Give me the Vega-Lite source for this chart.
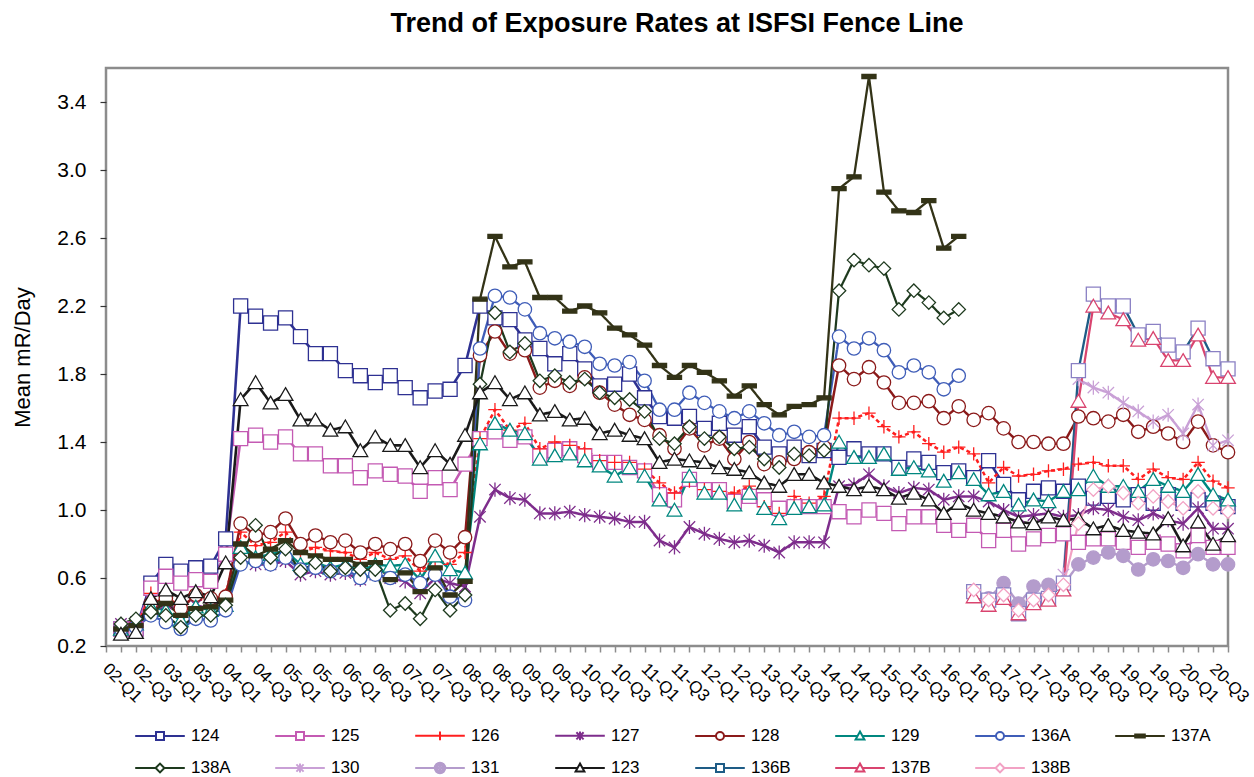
{
"$schema": "https://vega.github.io/schema/vega-lite/v6.json",
"width": 1122, "height": 578,
"autosize": {"type": "none"},
"padding": {"left": 106, "top": 68, "right": 26, "bottom": 131},
"background": "white",
"config": {"view": {"stroke": "#8c8c8c", "strokeWidth": 2.5}, "font": "Liberation Sans"},
"title": {"text": "Trend of Exposure Rates at ISFSI  Fence Line", "font": "Liberation Sans", "fontSize": 27, "fontWeight": "bold", "color": "#000000", "anchor": "middle", "offset": 30, "dx": 10},
"data": {"values": [
{"s":"124","q":"02-Q1","v":0.30},{"s":"124","q":"02-Q2","v":0.30},{"s":"124","q":"02-Q3","v":0.57},{"s":"124","q":"02-Q4","v":0.68},{"s":"124","q":"03-Q1","v":0.64},{"s":"124","q":"03-Q2","v":0.66},{"s":"124","q":"03-Q3","v":0.67},{"s":"124","q":"03-Q4","v":0.83},{"s":"124","q":"04-Q1","v":2.20},{"s":"124","q":"04-Q2","v":2.14},{"s":"124","q":"04-Q3","v":2.10},{"s":"124","q":"04-Q4","v":2.13},{"s":"124","q":"05-Q1","v":2.02},{"s":"124","q":"05-Q2","v":1.92},{"s":"124","q":"05-Q3","v":1.92},{"s":"124","q":"05-Q4","v":1.82},{"s":"124","q":"06-Q1","v":1.79},{"s":"124","q":"06-Q2","v":1.75},{"s":"124","q":"06-Q3","v":1.79},{"s":"124","q":"06-Q4","v":1.72},{"s":"124","q":"07-Q1","v":1.66},{"s":"124","q":"07-Q2","v":1.70},{"s":"124","q":"07-Q3","v":1.71},{"s":"124","q":"07-Q4","v":1.85},{"s":"124","q":"08-Q1","v":2.20},{"s":"124","q":"08-Q2","v":2.13},{"s":"124","q":"08-Q3","v":2.12},{"s":"124","q":"08-Q4","v":2.00},{"s":"124","q":"09-Q1","v":1.95},{"s":"124","q":"09-Q2","v":1.86},{"s":"124","q":"09-Q3","v":1.92},{"s":"124","q":"09-Q4","v":1.83},{"s":"124","q":"10-Q1","v":1.73},{"s":"124","q":"10-Q2","v":1.74},{"s":"124","q":"10-Q3","v":1.80},{"s":"124","q":"10-Q4","v":1.66},{"s":"124","q":"11-Q1","v":1.55},{"s":"124","q":"11-Q2","v":1.54},{"s":"124","q":"11-Q3","v":1.55},{"s":"124","q":"11-Q4","v":1.48},{"s":"124","q":"12-Q1","v":1.51},{"s":"124","q":"12-Q2","v":1.44},{"s":"124","q":"12-Q3","v":1.49},{"s":"124","q":"12-Q4","v":1.37},{"s":"124","q":"13-Q1","v":1.33},{"s":"124","q":"13-Q2","v":1.37},{"s":"124","q":"13-Q3","v":1.32},{"s":"124","q":"13-Q4","v":1.35},{"s":"124","q":"14-Q1","v":1.31},{"s":"124","q":"14-Q2","v":1.36},{"s":"124","q":"14-Q3","v":1.33},{"s":"124","q":"14-Q4","v":1.33},{"s":"124","q":"15-Q1","v":1.25},{"s":"124","q":"15-Q2","v":1.30},{"s":"124","q":"15-Q3","v":1.28},{"s":"124","q":"15-Q4","v":1.22},{"s":"124","q":"16-Q1","v":1.23},{"s":"124","q":"16-Q2","v":1.19},{"s":"124","q":"16-Q3","v":1.29},{"s":"124","q":"16-Q4","v":1.15},{"s":"124","q":"17-Q1","v":1.06},{"s":"124","q":"17-Q2","v":1.11},{"s":"124","q":"17-Q3","v":1.13},{"s":"124","q":"17-Q4","v":1.11},{"s":"124","q":"18-Q1","v":1.14},{"s":"124","q":"18-Q2","v":1.07},{"s":"124","q":"18-Q3","v":1.08},{"s":"124","q":"18-Q4","v":1.06},{"s":"124","q":"19-Q1","v":1.09},{"s":"124","q":"19-Q2","v":1.04},{"s":"124","q":"19-Q3","v":1.09},{"s":"124","q":"19-Q4","v":1.04},{"s":"124","q":"20-Q1","v":1.06},{"s":"124","q":"20-Q2","v":1.04},{"s":"124","q":"20-Q3","v":1.02},
{"s":"125","q":"02-Q1","v":0.30},{"s":"125","q":"02-Q2","v":0.30},{"s":"125","q":"02-Q3","v":0.54},{"s":"125","q":"02-Q4","v":0.61},{"s":"125","q":"03-Q1","v":0.57},{"s":"125","q":"03-Q2","v":0.59},{"s":"125","q":"03-Q3","v":0.58},{"s":"125","q":"03-Q4","v":0.74},{"s":"125","q":"04-Q1","v":1.42},{"s":"125","q":"04-Q2","v":1.44},{"s":"125","q":"04-Q3","v":1.40},{"s":"125","q":"04-Q4","v":1.43},{"s":"125","q":"05-Q1","v":1.33},{"s":"125","q":"05-Q2","v":1.33},{"s":"125","q":"05-Q3","v":1.26},{"s":"125","q":"05-Q4","v":1.26},{"s":"125","q":"06-Q1","v":1.19},{"s":"125","q":"06-Q2","v":1.23},{"s":"125","q":"06-Q3","v":1.21},{"s":"125","q":"06-Q4","v":1.20},{"s":"125","q":"07-Q1","v":1.11},{"s":"125","q":"07-Q2","v":1.19},{"s":"125","q":"07-Q3","v":1.12},{"s":"125","q":"07-Q4","v":1.27},{"s":"125","q":"08-Q1","v":1.42},{"s":"125","q":"08-Q2","v":1.46},{"s":"125","q":"08-Q3","v":1.41},{"s":"125","q":"08-Q4","v":1.43},{"s":"125","q":"09-Q1","v":1.32},{"s":"125","q":"09-Q2","v":1.35},{"s":"125","q":"09-Q3","v":1.36},{"s":"125","q":"09-Q4","v":1.32},{"s":"125","q":"10-Q1","v":1.28},{"s":"125","q":"10-Q2","v":1.28},{"s":"125","q":"10-Q3","v":1.25},{"s":"125","q":"10-Q4","v":1.23},{"s":"125","q":"11-Q1","v":1.09},{"s":"125","q":"11-Q2","v":1.06},{"s":"125","q":"11-Q3","v":1.18},{"s":"125","q":"11-Q4","v":1.12},{"s":"125","q":"12-Q1","v":1.12},{"s":"125","q":"12-Q2","v":1.05},{"s":"125","q":"12-Q3","v":1.08},{"s":"125","q":"12-Q4","v":1.06},{"s":"125","q":"13-Q1","v":1.01},{"s":"125","q":"13-Q2","v":1.02},{"s":"125","q":"13-Q3","v":1.02},{"s":"125","q":"13-Q4","v":1.02},{"s":"125","q":"14-Q1","v":0.99},{"s":"125","q":"14-Q2","v":0.96},{"s":"125","q":"14-Q3","v":1.00},{"s":"125","q":"14-Q4","v":0.98},{"s":"125","q":"15-Q1","v":0.92},{"s":"125","q":"15-Q2","v":0.96},{"s":"125","q":"15-Q3","v":0.96},{"s":"125","q":"15-Q4","v":0.91},{"s":"125","q":"16-Q1","v":0.88},{"s":"125","q":"16-Q2","v":0.91},{"s":"125","q":"16-Q3","v":0.82},{"s":"125","q":"16-Q4","v":0.88},{"s":"125","q":"17-Q1","v":0.80},{"s":"125","q":"17-Q2","v":0.83},{"s":"125","q":"17-Q3","v":0.85},{"s":"125","q":"17-Q4","v":0.86},{"s":"125","q":"18-Q1","v":0.81},{"s":"125","q":"18-Q2","v":0.83},{"s":"125","q":"18-Q3","v":0.83},{"s":"125","q":"18-Q4","v":0.81},{"s":"125","q":"19-Q1","v":0.78},{"s":"125","q":"19-Q2","v":0.81},{"s":"125","q":"19-Q3","v":0.80},{"s":"125","q":"19-Q4","v":0.76},{"s":"125","q":"20-Q1","v":0.85},{"s":"125","q":"20-Q2","v":0.78},{"s":"125","q":"20-Q3","v":0.78},
{"s":"126","q":"02-Q1","v":0.30},{"s":"126","q":"02-Q2","v":0.30},{"s":"126","q":"02-Q3","v":0.51},{"s":"126","q":"02-Q4","v":0.48},{"s":"126","q":"03-Q1","v":0.44},{"s":"126","q":"03-Q2","v":0.48},{"s":"126","q":"03-Q3","v":0.46},{"s":"126","q":"03-Q4","v":0.50},{"s":"126","q":"04-Q1","v":0.87},{"s":"126","q":"04-Q2","v":0.79},{"s":"126","q":"04-Q3","v":0.81},{"s":"126","q":"04-Q4","v":0.87},{"s":"126","q":"05-Q1","v":0.75},{"s":"126","q":"05-Q2","v":0.78},{"s":"126","q":"05-Q3","v":0.76},{"s":"126","q":"05-Q4","v":0.75},{"s":"126","q":"06-Q1","v":0.71},{"s":"126","q":"06-Q2","v":0.75},{"s":"126","q":"06-Q3","v":0.71},{"s":"126","q":"06-Q4","v":0.73},{"s":"126","q":"07-Q1","v":0.64},{"s":"126","q":"07-Q2","v":0.71},{"s":"126","q":"07-Q3","v":0.68},{"s":"126","q":"07-Q4","v":0.75},{"s":"126","q":"08-Q1","v":1.42},{"s":"126","q":"08-Q2","v":1.59},{"s":"126","q":"08-Q3","v":1.47},{"s":"126","q":"08-Q4","v":1.51},{"s":"126","q":"09-Q1","v":1.36},{"s":"126","q":"09-Q2","v":1.40},{"s":"126","q":"09-Q3","v":1.38},{"s":"126","q":"09-Q4","v":1.36},{"s":"126","q":"10-Q1","v":1.29},{"s":"126","q":"10-Q2","v":1.28},{"s":"126","q":"10-Q3","v":1.28},{"s":"126","q":"10-Q4","v":1.24},{"s":"126","q":"11-Q1","v":1.16},{"s":"126","q":"11-Q2","v":1.10},{"s":"126","q":"11-Q3","v":1.17},{"s":"126","q":"11-Q4","v":1.12},{"s":"126","q":"12-Q1","v":1.11},{"s":"126","q":"12-Q2","v":1.10},{"s":"126","q":"12-Q3","v":1.14},{"s":"126","q":"12-Q4","v":1.02},{"s":"126","q":"13-Q1","v":0.98},{"s":"126","q":"13-Q2","v":1.08},{"s":"126","q":"13-Q3","v":1.04},{"s":"126","q":"13-Q4","v":1.08},{"s":"126","q":"14-Q1","v":1.54},{"s":"126","q":"14-Q2","v":1.54},{"s":"126","q":"14-Q3","v":1.57},{"s":"126","q":"14-Q4","v":1.49},{"s":"126","q":"15-Q1","v":1.43},{"s":"126","q":"15-Q2","v":1.46},{"s":"126","q":"15-Q3","v":1.39},{"s":"126","q":"15-Q4","v":1.34},{"s":"126","q":"16-Q1","v":1.37},{"s":"126","q":"16-Q2","v":1.33},{"s":"126","q":"16-Q3","v":1.16},{"s":"126","q":"16-Q4","v":1.25},{"s":"126","q":"17-Q1","v":1.20},{"s":"126","q":"17-Q2","v":1.21},{"s":"126","q":"17-Q3","v":1.23},{"s":"126","q":"17-Q4","v":1.24},{"s":"126","q":"18-Q1","v":1.27},{"s":"126","q":"18-Q2","v":1.28},{"s":"126","q":"18-Q3","v":1.26},{"s":"126","q":"18-Q4","v":1.26},{"s":"126","q":"19-Q1","v":1.18},{"s":"126","q":"19-Q2","v":1.24},{"s":"126","q":"19-Q3","v":1.19},{"s":"126","q":"19-Q4","v":1.18},{"s":"126","q":"20-Q1","v":1.28},{"s":"126","q":"20-Q2","v":1.17},{"s":"126","q":"20-Q3","v":1.13},
{"s":"127","q":"02-Q1","v":0.33},{"s":"127","q":"02-Q2","v":0.34},{"s":"127","q":"02-Q3","v":0.42},{"s":"127","q":"02-Q4","v":0.45},{"s":"127","q":"03-Q1","v":0.40},{"s":"127","q":"03-Q2","v":0.44},{"s":"127","q":"03-Q3","v":0.42},{"s":"127","q":"03-Q4","v":0.45},{"s":"127","q":"04-Q1","v":0.70},{"s":"127","q":"04-Q2","v":0.68},{"s":"127","q":"04-Q3","v":0.68},{"s":"127","q":"04-Q4","v":0.70},{"s":"127","q":"05-Q1","v":0.62},{"s":"127","q":"05-Q2","v":0.64},{"s":"127","q":"05-Q3","v":0.62},{"s":"127","q":"05-Q4","v":0.63},{"s":"127","q":"06-Q1","v":0.59},{"s":"127","q":"06-Q2","v":0.62},{"s":"127","q":"06-Q3","v":0.60},{"s":"127","q":"06-Q4","v":0.58},{"s":"127","q":"07-Q1","v":0.51},{"s":"127","q":"07-Q2","v":0.60},{"s":"127","q":"07-Q3","v":0.57},{"s":"127","q":"07-Q4","v":0.55},{"s":"127","q":"08-Q1","v":0.96},{"s":"127","q":"08-Q2","v":1.12},{"s":"127","q":"08-Q3","v":1.07},{"s":"127","q":"08-Q4","v":1.06},{"s":"127","q":"09-Q1","v":0.98},{"s":"127","q":"09-Q2","v":0.98},{"s":"127","q":"09-Q3","v":0.99},{"s":"127","q":"09-Q4","v":0.97},{"s":"127","q":"10-Q1","v":0.96},{"s":"127","q":"10-Q2","v":0.95},{"s":"127","q":"10-Q3","v":0.93},{"s":"127","q":"10-Q4","v":0.93},{"s":"127","q":"11-Q1","v":0.82},{"s":"127","q":"11-Q2","v":0.78},{"s":"127","q":"11-Q3","v":0.90},{"s":"127","q":"11-Q4","v":0.86},{"s":"127","q":"12-Q1","v":0.83},{"s":"127","q":"12-Q2","v":0.81},{"s":"127","q":"12-Q3","v":0.82},{"s":"127","q":"12-Q4","v":0.79},{"s":"127","q":"13-Q1","v":0.75},{"s":"127","q":"13-Q2","v":0.81},{"s":"127","q":"13-Q3","v":0.81},{"s":"127","q":"13-Q4","v":0.81},{"s":"127","q":"14-Q1","v":1.14},{"s":"127","q":"14-Q2","v":1.15},{"s":"127","q":"14-Q3","v":1.21},{"s":"127","q":"14-Q4","v":1.14},{"s":"127","q":"15-Q1","v":1.10},{"s":"127","q":"15-Q2","v":1.13},{"s":"127","q":"15-Q3","v":1.12},{"s":"127","q":"15-Q4","v":1.06},{"s":"127","q":"16-Q1","v":1.08},{"s":"127","q":"16-Q2","v":1.08},{"s":"127","q":"16-Q3","v":1.05},{"s":"127","q":"16-Q4","v":1.00},{"s":"127","q":"17-Q1","v":0.96},{"s":"127","q":"17-Q2","v":0.97},{"s":"127","q":"17-Q3","v":0.98},{"s":"127","q":"17-Q4","v":0.96},{"s":"127","q":"18-Q1","v":0.97},{"s":"127","q":"18-Q2","v":1.01},{"s":"127","q":"18-Q3","v":1.00},{"s":"127","q":"18-Q4","v":0.96},{"s":"127","q":"19-Q1","v":0.94},{"s":"127","q":"19-Q2","v":0.98},{"s":"127","q":"19-Q3","v":0.94},{"s":"127","q":"19-Q4","v":0.92},{"s":"127","q":"20-Q1","v":1.01},{"s":"127","q":"20-Q2","v":0.89},{"s":"127","q":"20-Q3","v":0.89},
{"s":"128","q":"02-Q1","v":0.30},{"s":"128","q":"02-Q2","v":0.32},{"s":"128","q":"02-Q3","v":0.45},{"s":"128","q":"02-Q4","v":0.48},{"s":"128","q":"03-Q1","v":0.42},{"s":"128","q":"03-Q2","v":0.50},{"s":"128","q":"03-Q3","v":0.48},{"s":"128","q":"03-Q4","v":0.49},{"s":"128","q":"04-Q1","v":0.92},{"s":"128","q":"04-Q2","v":0.85},{"s":"128","q":"04-Q3","v":0.87},{"s":"128","q":"04-Q4","v":0.95},{"s":"128","q":"05-Q1","v":0.80},{"s":"128","q":"05-Q2","v":0.85},{"s":"128","q":"05-Q3","v":0.81},{"s":"128","q":"05-Q4","v":0.82},{"s":"128","q":"06-Q1","v":0.75},{"s":"128","q":"06-Q2","v":0.80},{"s":"128","q":"06-Q3","v":0.77},{"s":"128","q":"06-Q4","v":0.80},{"s":"128","q":"07-Q1","v":0.70},{"s":"128","q":"07-Q2","v":0.82},{"s":"128","q":"07-Q3","v":0.75},{"s":"128","q":"07-Q4","v":0.84},{"s":"128","q":"08-Q1","v":1.91},{"s":"128","q":"08-Q2","v":2.05},{"s":"128","q":"08-Q3","v":1.92},{"s":"128","q":"08-Q4","v":1.94},{"s":"128","q":"09-Q1","v":1.72},{"s":"128","q":"09-Q2","v":1.76},{"s":"128","q":"09-Q3","v":1.73},{"s":"128","q":"09-Q4","v":1.78},{"s":"128","q":"10-Q1","v":1.69},{"s":"128","q":"10-Q2","v":1.62},{"s":"128","q":"10-Q3","v":1.56},{"s":"128","q":"10-Q4","v":1.53},{"s":"128","q":"11-Q1","v":1.44},{"s":"128","q":"11-Q2","v":1.36},{"s":"128","q":"11-Q3","v":1.48},{"s":"128","q":"11-Q4","v":1.38},{"s":"128","q":"12-Q1","v":1.42},{"s":"128","q":"12-Q2","v":1.30},{"s":"128","q":"12-Q3","v":1.40},{"s":"128","q":"12-Q4","v":1.27},{"s":"128","q":"13-Q1","v":1.28},{"s":"128","q":"13-Q2","v":1.30},{"s":"128","q":"13-Q3","v":1.34},{"s":"128","q":"13-Q4","v":1.37},{"s":"128","q":"14-Q1","v":1.85},{"s":"128","q":"14-Q2","v":1.77},{"s":"128","q":"14-Q3","v":1.84},{"s":"128","q":"14-Q4","v":1.75},{"s":"128","q":"15-Q1","v":1.63},{"s":"128","q":"15-Q2","v":1.63},{"s":"128","q":"15-Q3","v":1.64},{"s":"128","q":"15-Q4","v":1.54},{"s":"128","q":"16-Q1","v":1.61},{"s":"128","q":"16-Q2","v":1.53},{"s":"128","q":"16-Q3","v":1.57},{"s":"128","q":"16-Q4","v":1.48},{"s":"128","q":"17-Q1","v":1.40},{"s":"128","q":"17-Q2","v":1.40},{"s":"128","q":"17-Q3","v":1.39},{"s":"128","q":"17-Q4","v":1.39},{"s":"128","q":"18-Q1","v":1.55},{"s":"128","q":"18-Q2","v":1.54},{"s":"128","q":"18-Q3","v":1.52},{"s":"128","q":"18-Q4","v":1.56},{"s":"128","q":"19-Q1","v":1.46},{"s":"128","q":"19-Q2","v":1.49},{"s":"128","q":"19-Q3","v":1.45},{"s":"128","q":"19-Q4","v":1.40},{"s":"128","q":"20-Q1","v":1.52},{"s":"128","q":"20-Q2","v":1.38},{"s":"128","q":"20-Q3","v":1.34},
{"s":"129","q":"02-Q1","v":0.30},{"s":"129","q":"02-Q2","v":0.33},{"s":"129","q":"02-Q3","v":0.43},{"s":"129","q":"02-Q4","v":0.41},{"s":"129","q":"03-Q1","v":0.35},{"s":"129","q":"03-Q2","v":0.43},{"s":"129","q":"03-Q3","v":0.41},{"s":"129","q":"03-Q4","v":0.44},{"s":"129","q":"04-Q1","v":0.78},{"s":"129","q":"04-Q2","v":0.72},{"s":"129","q":"04-Q3","v":0.74},{"s":"129","q":"04-Q4","v":0.76},{"s":"129","q":"05-Q1","v":0.68},{"s":"129","q":"05-Q2","v":0.69},{"s":"129","q":"05-Q3","v":0.66},{"s":"129","q":"05-Q4","v":0.68},{"s":"129","q":"06-Q1","v":0.64},{"s":"129","q":"06-Q2","v":0.68},{"s":"129","q":"06-Q3","v":0.67},{"s":"129","q":"06-Q4","v":0.68},{"s":"129","q":"07-Q1","v":0.59},{"s":"129","q":"07-Q2","v":0.73},{"s":"129","q":"07-Q3","v":0.65},{"s":"129","q":"07-Q4","v":0.63},{"s":"129","q":"08-Q1","v":1.39},{"s":"129","q":"08-Q2","v":1.51},{"s":"129","q":"08-Q3","v":1.47},{"s":"129","q":"08-Q4","v":1.45},{"s":"129","q":"09-Q1","v":1.30},{"s":"129","q":"09-Q2","v":1.32},{"s":"129","q":"09-Q3","v":1.33},{"s":"129","q":"09-Q4","v":1.29},{"s":"129","q":"10-Q1","v":1.26},{"s":"129","q":"10-Q2","v":1.20},{"s":"129","q":"10-Q3","v":1.25},{"s":"129","q":"10-Q4","v":1.20},{"s":"129","q":"11-Q1","v":1.06},{"s":"129","q":"11-Q2","v":1.00},{"s":"129","q":"11-Q3","v":1.20},{"s":"129","q":"11-Q4","v":1.10},{"s":"129","q":"12-Q1","v":1.10},{"s":"129","q":"12-Q2","v":1.03},{"s":"129","q":"12-Q3","v":1.10},{"s":"129","q":"12-Q4","v":1.01},{"s":"129","q":"13-Q1","v":0.95},{"s":"129","q":"13-Q2","v":1.01},{"s":"129","q":"13-Q3","v":1.02},{"s":"129","q":"13-Q4","v":1.03},{"s":"129","q":"14-Q1","v":1.40},{"s":"129","q":"14-Q2","v":1.31},{"s":"129","q":"14-Q3","v":1.31},{"s":"129","q":"14-Q4","v":1.33},{"s":"129","q":"15-Q1","v":1.24},{"s":"129","q":"15-Q2","v":1.25},{"s":"129","q":"15-Q3","v":1.23},{"s":"129","q":"15-Q4","v":1.17},{"s":"129","q":"16-Q1","v":1.22},{"s":"129","q":"16-Q2","v":1.18},{"s":"129","q":"16-Q3","v":1.09},{"s":"129","q":"16-Q4","v":1.11},{"s":"129","q":"17-Q1","v":1.03},{"s":"129","q":"17-Q2","v":1.06},{"s":"129","q":"17-Q3","v":1.05},{"s":"129","q":"17-Q4","v":1.11},{"s":"129","q":"18-Q1","v":1.12},{"s":"129","q":"18-Q2","v":1.20},{"s":"129","q":"18-Q3","v":1.14},{"s":"129","q":"18-Q4","v":1.14},{"s":"129","q":"19-Q1","v":1.11},{"s":"129","q":"19-Q2","v":1.18},{"s":"129","q":"19-Q3","v":1.14},{"s":"129","q":"19-Q4","v":1.11},{"s":"129","q":"20-Q1","v":1.21},{"s":"129","q":"20-Q2","v":1.09},{"s":"129","q":"20-Q3","v":1.06},
{"s":"136A","q":"02-Q1","v":0.30},{"s":"136A","q":"02-Q2","v":0.31},{"s":"136A","q":"02-Q3","v":0.38},{"s":"136A","q":"02-Q4","v":0.34},{"s":"136A","q":"03-Q1","v":0.30},{"s":"136A","q":"03-Q2","v":0.36},{"s":"136A","q":"03-Q3","v":0.35},{"s":"136A","q":"03-Q4","v":0.41},{"s":"136A","q":"04-Q1","v":0.68},{"s":"136A","q":"04-Q2","v":0.70},{"s":"136A","q":"04-Q3","v":0.68},{"s":"136A","q":"04-Q4","v":0.72},{"s":"136A","q":"05-Q1","v":0.65},{"s":"136A","q":"05-Q2","v":0.66},{"s":"136A","q":"05-Q3","v":0.64},{"s":"136A","q":"05-Q4","v":0.65},{"s":"136A","q":"06-Q1","v":0.60},{"s":"136A","q":"06-Q2","v":0.62},{"s":"136A","q":"06-Q3","v":0.60},{"s":"136A","q":"06-Q4","v":0.62},{"s":"136A","q":"07-Q1","v":0.57},{"s":"136A","q":"07-Q2","v":0.62},{"s":"136A","q":"07-Q3","v":0.49},{"s":"136A","q":"07-Q4","v":0.47},{"s":"136A","q":"08-Q1","v":1.95},{"s":"136A","q":"08-Q2","v":2.26},{"s":"136A","q":"08-Q3","v":2.25},{"s":"136A","q":"08-Q4","v":2.18},{"s":"136A","q":"09-Q1","v":2.04},{"s":"136A","q":"09-Q2","v":2.01},{"s":"136A","q":"09-Q3","v":1.99},{"s":"136A","q":"09-Q4","v":1.96},{"s":"136A","q":"10-Q1","v":1.86},{"s":"136A","q":"10-Q2","v":1.85},{"s":"136A","q":"10-Q3","v":1.87},{"s":"136A","q":"10-Q4","v":1.76},{"s":"136A","q":"11-Q1","v":1.59},{"s":"136A","q":"11-Q2","v":1.59},{"s":"136A","q":"11-Q3","v":1.69},{"s":"136A","q":"11-Q4","v":1.63},{"s":"136A","q":"12-Q1","v":1.58},{"s":"136A","q":"12-Q2","v":1.54},{"s":"136A","q":"12-Q3","v":1.58},{"s":"136A","q":"12-Q4","v":1.51},{"s":"136A","q":"13-Q1","v":1.44},{"s":"136A","q":"13-Q2","v":1.46},{"s":"136A","q":"13-Q3","v":1.43},{"s":"136A","q":"13-Q4","v":1.44},{"s":"136A","q":"14-Q1","v":2.02},{"s":"136A","q":"14-Q2","v":1.95},{"s":"136A","q":"14-Q3","v":2.01},{"s":"136A","q":"14-Q4","v":1.94},{"s":"136A","q":"15-Q1","v":1.81},{"s":"136A","q":"15-Q2","v":1.85},{"s":"136A","q":"15-Q3","v":1.81},{"s":"136A","q":"15-Q4","v":1.71},{"s":"136A","q":"16-Q1","v":1.79},
{"s":"137A","q":"02-Q1","v":0.30},{"s":"137A","q":"02-Q2","v":0.32},{"s":"137A","q":"02-Q3","v":0.40},{"s":"137A","q":"02-Q4","v":0.45},{"s":"137A","q":"03-Q1","v":0.38},{"s":"137A","q":"03-Q2","v":0.42},{"s":"137A","q":"03-Q3","v":0.43},{"s":"137A","q":"03-Q4","v":0.47},{"s":"137A","q":"04-Q1","v":0.80},{"s":"137A","q":"04-Q2","v":0.73},{"s":"137A","q":"04-Q3","v":0.77},{"s":"137A","q":"04-Q4","v":0.82},{"s":"137A","q":"05-Q1","v":0.75},{"s":"137A","q":"05-Q2","v":0.73},{"s":"137A","q":"05-Q3","v":0.71},{"s":"137A","q":"05-Q4","v":0.71},{"s":"137A","q":"06-Q1","v":0.68},{"s":"137A","q":"06-Q2","v":0.69},{"s":"137A","q":"06-Q3","v":0.59},{"s":"137A","q":"06-Q4","v":0.63},{"s":"137A","q":"07-Q1","v":0.52},{"s":"137A","q":"07-Q2","v":0.66},{"s":"137A","q":"07-Q3","v":0.50},{"s":"137A","q":"07-Q4","v":0.58},{"s":"137A","q":"08-Q1","v":2.24},{"s":"137A","q":"08-Q2","v":2.61},{"s":"137A","q":"08-Q3","v":2.43},{"s":"137A","q":"08-Q4","v":2.46},{"s":"137A","q":"09-Q1","v":2.25},{"s":"137A","q":"09-Q2","v":2.25},{"s":"137A","q":"09-Q3","v":2.17},{"s":"137A","q":"09-Q4","v":2.20},{"s":"137A","q":"10-Q1","v":2.16},{"s":"137A","q":"10-Q2","v":2.07},{"s":"137A","q":"10-Q3","v":2.03},{"s":"137A","q":"10-Q4","v":1.97},{"s":"137A","q":"11-Q1","v":1.85},{"s":"137A","q":"11-Q2","v":1.78},{"s":"137A","q":"11-Q3","v":1.85},{"s":"137A","q":"11-Q4","v":1.81},{"s":"137A","q":"12-Q1","v":1.76},{"s":"137A","q":"12-Q2","v":1.67},{"s":"137A","q":"12-Q3","v":1.73},{"s":"137A","q":"12-Q4","v":1.62},{"s":"137A","q":"13-Q1","v":1.56},{"s":"137A","q":"13-Q2","v":1.61},{"s":"137A","q":"13-Q3","v":1.62},{"s":"137A","q":"13-Q4","v":1.66},{"s":"137A","q":"14-Q1","v":2.89},{"s":"137A","q":"14-Q2","v":2.96},{"s":"137A","q":"14-Q3","v":3.55},{"s":"137A","q":"14-Q4","v":2.87},{"s":"137A","q":"15-Q1","v":2.76},{"s":"137A","q":"15-Q2","v":2.75},{"s":"137A","q":"15-Q3","v":2.82},{"s":"137A","q":"15-Q4","v":2.54},{"s":"137A","q":"16-Q1","v":2.61},
{"s":"138A","q":"02-Q1","v":0.33},{"s":"138A","q":"02-Q2","v":0.36},{"s":"138A","q":"02-Q3","v":0.40},{"s":"138A","q":"02-Q4","v":0.38},{"s":"138A","q":"03-Q1","v":0.31},{"s":"138A","q":"03-Q2","v":0.38},{"s":"138A","q":"03-Q3","v":0.38},{"s":"138A","q":"03-Q4","v":0.44},{"s":"138A","q":"04-Q1","v":0.72},{"s":"138A","q":"04-Q2","v":0.91},{"s":"138A","q":"04-Q3","v":0.72},{"s":"138A","q":"04-Q4","v":0.77},{"s":"138A","q":"05-Q1","v":0.64},{"s":"138A","q":"05-Q2","v":0.69},{"s":"138A","q":"05-Q3","v":0.64},{"s":"138A","q":"05-Q4","v":0.66},{"s":"138A","q":"06-Q1","v":0.65},{"s":"138A","q":"06-Q2","v":0.65},{"s":"138A","q":"06-Q3","v":0.41},{"s":"138A","q":"06-Q4","v":0.45},{"s":"138A","q":"07-Q1","v":0.36},{"s":"138A","q":"07-Q2","v":0.53},{"s":"138A","q":"07-Q3","v":0.41},{"s":"138A","q":"07-Q4","v":0.50},{"s":"138A","q":"08-Q1","v":1.74},{"s":"138A","q":"08-Q2","v":2.16},{"s":"138A","q":"08-Q3","v":1.93},{"s":"138A","q":"08-Q4","v":1.98},{"s":"138A","q":"09-Q1","v":1.76},{"s":"138A","q":"09-Q2","v":1.79},{"s":"138A","q":"09-Q3","v":1.75},{"s":"138A","q":"09-Q4","v":1.77},{"s":"138A","q":"10-Q1","v":1.69},{"s":"138A","q":"10-Q2","v":1.66},{"s":"138A","q":"10-Q3","v":1.65},{"s":"138A","q":"10-Q4","v":1.58},{"s":"138A","q":"11-Q1","v":1.42},{"s":"138A","q":"11-Q2","v":1.39},{"s":"138A","q":"11-Q3","v":1.49},{"s":"138A","q":"11-Q4","v":1.42},{"s":"138A","q":"12-Q1","v":1.43},{"s":"138A","q":"12-Q2","v":1.36},{"s":"138A","q":"12-Q3","v":1.37},{"s":"138A","q":"12-Q4","v":1.30},{"s":"138A","q":"13-Q1","v":1.25},{"s":"138A","q":"13-Q2","v":1.33},{"s":"138A","q":"13-Q3","v":1.32},{"s":"138A","q":"13-Q4","v":1.35},{"s":"138A","q":"14-Q1","v":2.29},{"s":"138A","q":"14-Q2","v":2.47},{"s":"138A","q":"14-Q3","v":2.44},{"s":"138A","q":"14-Q4","v":2.42},{"s":"138A","q":"15-Q1","v":2.18},{"s":"138A","q":"15-Q2","v":2.29},{"s":"138A","q":"15-Q3","v":2.22},{"s":"138A","q":"15-Q4","v":2.13},{"s":"138A","q":"16-Q1","v":2.18},
{"s":"130","q":"16-Q2","v":0.50},{"s":"130","q":"16-Q3","v":0.46},{"s":"130","q":"16-Q4","v":0.49},{"s":"130","q":"17-Q1","v":0.40},{"s":"130","q":"17-Q2","v":0.46},{"s":"130","q":"17-Q3","v":0.48},{"s":"130","q":"17-Q4","v":0.62},{"s":"130","q":"18-Q1","v":1.77},{"s":"130","q":"18-Q2","v":1.72},{"s":"130","q":"18-Q3","v":1.69},{"s":"130","q":"18-Q4","v":1.63},{"s":"130","q":"19-Q1","v":1.58},{"s":"130","q":"19-Q2","v":1.52},{"s":"130","q":"19-Q3","v":1.56},{"s":"130","q":"19-Q4","v":1.45},{"s":"130","q":"20-Q1","v":1.62},{"s":"130","q":"20-Q2","v":1.38},{"s":"130","q":"20-Q3","v":1.41},
{"s":"131","q":"16-Q2","v":0.50},{"s":"131","q":"16-Q3","v":0.48},{"s":"131","q":"16-Q4","v":0.57},{"s":"131","q":"17-Q1","v":0.45},{"s":"131","q":"17-Q2","v":0.55},{"s":"131","q":"17-Q3","v":0.56},{"s":"131","q":"17-Q4","v":0.56},{"s":"131","q":"18-Q1","v":0.68},{"s":"131","q":"18-Q2","v":0.72},{"s":"131","q":"18-Q3","v":0.75},{"s":"131","q":"18-Q4","v":0.73},{"s":"131","q":"19-Q1","v":0.65},{"s":"131","q":"19-Q2","v":0.71},{"s":"131","q":"19-Q3","v":0.70},{"s":"131","q":"19-Q4","v":0.66},{"s":"131","q":"20-Q1","v":0.74},{"s":"131","q":"20-Q2","v":0.68},{"s":"131","q":"20-Q3","v":0.68},
{"s":"123","q":"02-Q1","v":0.27},{"s":"123","q":"02-Q2","v":0.28},{"s":"123","q":"02-Q3","v":0.48},{"s":"123","q":"02-Q4","v":0.53},{"s":"123","q":"03-Q1","v":0.48},{"s":"123","q":"03-Q2","v":0.52},{"s":"123","q":"03-Q3","v":0.49},{"s":"123","q":"03-Q4","v":0.69},{"s":"123","q":"04-Q1","v":1.65},{"s":"123","q":"04-Q2","v":1.75},{"s":"123","q":"04-Q3","v":1.63},{"s":"123","q":"04-Q4","v":1.68},{"s":"123","q":"05-Q1","v":1.53},{"s":"123","q":"05-Q2","v":1.53},{"s":"123","q":"05-Q3","v":1.47},{"s":"123","q":"05-Q4","v":1.49},{"s":"123","q":"06-Q1","v":1.35},{"s":"123","q":"06-Q2","v":1.43},{"s":"123","q":"06-Q3","v":1.38},{"s":"123","q":"06-Q4","v":1.38},{"s":"123","q":"07-Q1","v":1.25},{"s":"123","q":"07-Q2","v":1.35},{"s":"123","q":"07-Q3","v":1.27},{"s":"123","q":"07-Q4","v":1.44},{"s":"123","q":"08-Q1","v":1.69},{"s":"123","q":"08-Q2","v":1.75},{"s":"123","q":"08-Q3","v":1.65},{"s":"123","q":"08-Q4","v":1.69},{"s":"123","q":"09-Q1","v":1.56},{"s":"123","q":"09-Q2","v":1.58},{"s":"123","q":"09-Q3","v":1.53},{"s":"123","q":"09-Q4","v":1.54},{"s":"123","q":"10-Q1","v":1.45},{"s":"123","q":"10-Q2","v":1.47},{"s":"123","q":"10-Q3","v":1.44},{"s":"123","q":"10-Q4","v":1.42},{"s":"123","q":"11-Q1","v":1.28},{"s":"123","q":"11-Q2","v":1.30},{"s":"123","q":"11-Q3","v":1.29},{"s":"123","q":"11-Q4","v":1.28},{"s":"123","q":"12-Q1","v":1.25},{"s":"123","q":"12-Q2","v":1.24},{"s":"123","q":"12-Q3","v":1.22},{"s":"123","q":"12-Q4","v":1.16},{"s":"123","q":"13-Q1","v":1.14},{"s":"123","q":"13-Q2","v":1.21},{"s":"123","q":"13-Q3","v":1.21},{"s":"123","q":"13-Q4","v":1.16},{"s":"123","q":"14-Q1","v":1.14},{"s":"123","q":"14-Q2","v":1.12},{"s":"123","q":"14-Q3","v":1.14},{"s":"123","q":"14-Q4","v":1.12},{"s":"123","q":"15-Q1","v":1.07},{"s":"123","q":"15-Q2","v":1.10},{"s":"123","q":"15-Q3","v":1.06},{"s":"123","q":"15-Q4","v":0.98},{"s":"123","q":"16-Q1","v":1.04},{"s":"123","q":"16-Q2","v":1.00},{"s":"123","q":"16-Q3","v":0.98},{"s":"123","q":"16-Q4","v":0.96},{"s":"123","q":"17-Q1","v":0.93},{"s":"123","q":"17-Q2","v":0.92},{"s":"123","q":"17-Q3","v":0.96},{"s":"123","q":"17-Q4","v":0.94},{"s":"123","q":"18-Q1","v":0.95},{"s":"123","q":"18-Q2","v":0.89},{"s":"123","q":"18-Q3","v":0.91},{"s":"123","q":"18-Q4","v":0.88},{"s":"123","q":"19-Q1","v":0.87},{"s":"123","q":"19-Q2","v":0.86},{"s":"123","q":"19-Q3","v":0.95},{"s":"123","q":"19-Q4","v":0.79},{"s":"123","q":"20-Q1","v":0.93},{"s":"123","q":"20-Q2","v":0.80},{"s":"123","q":"20-Q3","v":0.85},
{"s":"136B","q":"16-Q2","v":0.52},{"s":"136B","q":"16-Q3","v":0.47},{"s":"136B","q":"16-Q4","v":0.50},{"s":"136B","q":"17-Q1","v":0.39},{"s":"136B","q":"17-Q2","v":0.47},{"s":"136B","q":"17-Q3","v":0.48},{"s":"136B","q":"17-Q4","v":0.57},{"s":"136B","q":"18-Q1","v":1.82},{"s":"136B","q":"18-Q2","v":2.27},{"s":"136B","q":"18-Q3","v":2.20},{"s":"136B","q":"18-Q4","v":2.20},{"s":"136B","q":"19-Q1","v":2.03},{"s":"136B","q":"19-Q2","v":2.05},{"s":"136B","q":"19-Q3","v":1.97},{"s":"136B","q":"19-Q4","v":1.93},{"s":"136B","q":"20-Q1","v":2.07},{"s":"136B","q":"20-Q2","v":1.89},{"s":"136B","q":"20-Q3","v":1.83},
{"s":"137B","q":"16-Q2","v":0.49},{"s":"137B","q":"16-Q3","v":0.44},{"s":"137B","q":"16-Q4","v":0.48},{"s":"137B","q":"17-Q1","v":0.39},{"s":"137B","q":"17-Q2","v":0.45},{"s":"137B","q":"17-Q3","v":0.47},{"s":"137B","q":"17-Q4","v":0.53},{"s":"137B","q":"18-Q1","v":1.64},{"s":"137B","q":"18-Q2","v":2.20},{"s":"137B","q":"18-Q3","v":2.16},{"s":"137B","q":"18-Q4","v":2.12},{"s":"137B","q":"19-Q1","v":2.00},{"s":"137B","q":"19-Q2","v":2.01},{"s":"137B","q":"19-Q3","v":1.88},{"s":"137B","q":"19-Q4","v":1.88},{"s":"137B","q":"20-Q1","v":2.03},{"s":"137B","q":"20-Q2","v":1.78},{"s":"137B","q":"20-Q3","v":1.78},
{"s":"138B","q":"16-Q2","v":0.53},{"s":"138B","q":"16-Q3","v":0.47},{"s":"138B","q":"16-Q4","v":0.50},{"s":"138B","q":"17-Q1","v":0.41},{"s":"138B","q":"17-Q2","v":0.47},{"s":"138B","q":"17-Q3","v":0.50},{"s":"138B","q":"17-Q4","v":0.56},{"s":"138B","q":"18-Q1","v":0.92},{"s":"138B","q":"18-Q2","v":1.12},{"s":"138B","q":"18-Q3","v":1.14},{"s":"138B","q":"18-Q4","v":1.10},{"s":"138B","q":"19-Q1","v":1.04},{"s":"138B","q":"19-Q2","v":1.08},{"s":"138B","q":"19-Q3","v":1.05},{"s":"138B","q":"19-Q4","v":1.01},{"s":"138B","q":"20-Q1","v":1.11},{"s":"138B","q":"20-Q2","v":1.01},{"s":"138B","q":"20-Q3","v":0.99}
]},
"encoding": {
  "x": {"field": "q", "type": "ordinal",
    "scale": {"type": "point", "padding": 0, "domain": ["","02-Q1","02-Q2","02-Q3","02-Q4","03-Q1","03-Q2","03-Q3","03-Q4","04-Q1","04-Q2","04-Q3","04-Q4","05-Q1","05-Q2","05-Q3","05-Q4","06-Q1","06-Q2","06-Q3","06-Q4","07-Q1","07-Q2","07-Q3","07-Q4","08-Q1","08-Q2","08-Q3","08-Q4","09-Q1","09-Q2","09-Q3","09-Q4","10-Q1","10-Q2","10-Q3","10-Q4","11-Q1","11-Q2","11-Q3","11-Q4","12-Q1","12-Q2","12-Q3","12-Q4","13-Q1","13-Q2","13-Q3","13-Q4","14-Q1","14-Q2","14-Q3","14-Q4","15-Q1","15-Q2","15-Q3","15-Q4","16-Q1","16-Q2","16-Q3","16-Q4","17-Q1","17-Q2","17-Q3","17-Q4","18-Q1","18-Q2","18-Q3","18-Q4","19-Q1","19-Q2","19-Q3","19-Q4","20-Q1","20-Q2","20-Q3"]},
    "axis": {"title": null, "labelAngle": 45, "labelAlign": "left", "labelBaseline": "middle", "labelFont": "Liberation Sans", "labelFontSize": 17, "labelColor": "#000000", "labelPadding": 14, "labelOffset": -16, "labelOverlap": false, "labelBound": false, "labelExpr": "(indexof(datum.value,'Q1')>=0 || indexof(datum.value,'Q3')>=0) ? datum.value : ''", "ticks": true, "tickSize": 6, "tickColor": "#8c8c8c", "tickWidth": 1.5, "domain": false, "grid": false}},
  "y": {"field": "v", "type": "quantitative",
    "scale": {"domain": [0.2, 3.6], "nice": false, "zero": false},
    "axis": {"title": "Mean mR/Day", "titleFont": "Liberation Sans", "titleFontSize": 22, "titleFontWeight": "normal", "titleColor": "#000000", "titlePadding": 22, "values": [0.2, 0.6, 1.0, 1.4, 1.8, 2.2, 2.6, 3.0, 3.4], "format": ".1f", "labelFont": "Liberation Sans", "labelFontSize": 21, "labelColor": "#000000", "labelPadding": 14, "tickSize": 6, "tickColor": "#333333", "tickWidth": 1.2, "domain": false, "grid": false}}
},
"resolve": {"scale": {"shape": "independent", "stroke": "independent", "fill": "independent"}},
"layer": [
  {"mark": {"type": "line", "strokeJoin": "round", "strokeCap": "butt"},
   "encoding": {
     "color": {"field": "s", "type": "nominal", "legend": null,
       "scale": {"domain": ["123","124","125","126","127","128","129","130","131","136A","136B","137A","137B","138A","138B"],
                 "range": ["#1A1A1A","#2E3192","#C45AB3","#FF1F1F","#7E2D8C","#8B1A1A","#00877F","#C9A0D6","#B49CCC","#3F5DB8","#1E5C86","#333317","#D9446F","#1E3A1E","#F2A2C4"]}},
     "strokeWidth": {"field": "s", "type": "nominal", "legend": null,
       "scale": {"domain": ["123","124","125","126","127","128","129","130","131","136A","136B","137A","137B","138A","138B"],
                 "range": [2.6,2.2,2.2,1.6,2.6,2.2,2.6,2.6,2.4,2.6,2.6,3.2,2.6,2.2,2.6]}},
     "strokeDash": {"field": "s", "type": "nominal", "legend": null,
       "scale": {"domain": ["123","124","125","126","127","128","129","130","131","136A","136B","137A","137B","138A","138B"],
                 "range": [[1,0],[1,0],[1,0],[4,3],[1,0],[1,0],[1,0],[1,0],[1,0],[1,0],[1,0],[1,0],[1,0],[1,0],[1,0]]}}
   }},
  {"mark": {"type": "point", "size": 180, "strokeWidth": 1.3, "opacity": 1},
   "encoding": {
     "stroke": {"field": "s", "type": "nominal", "legend": null,
       "scale": {"domain": ["124","125","126","127","128","129","136A","137A","138A","130","131","123","136B","137B","138B"],
                 "range": ["#2E3192","#C45AB3","#FF1F1F","#7E2D8C","#8B1A1A","#00877F","#3F5DB8","#333317","#1E3A1E","#C9A0D6","#B49CCC","#1A1A1A","#8A80C4","#D9446F","#F2A2C4"]}},
     "fill": {"field": "s", "type": "nominal", "legend": null,
       "scale": {"domain": ["124","125","126","127","128","129","136A","137A","138A","130","131","123","136B","137B","138B"],
                 "range": ["#ffffff","#ffffff","#ffffff","#ffffff","#ffffff","#ffffff","#ffffff","#333317","#ffffff","#ffffff","#B49CCC","#ffffff","#ffffff","#ffffff","#ffffff"]}},
     "shape": {"field": "s", "type": "nominal", "legend": null,
       "scale": {"domain": ["124","125","126","127","128","129","136A","137A","138A","130","131","123","136B","137B","138B"],
                 "range": ["M-1.05,-1.05H1.05V1.05H-1.05Z","M-1.05,-1.05H1.05V1.05H-1.05Z","M-1,0H1M0,-1V1","M-0.85,-0.85L0.85,0.85M-0.85,0.85L0.85,-0.85M0,-1.05V1.05","circle","M0,-1L1.1,0.9H-1.1Z","circle","M-1.05,-0.3H1.05V0.3H-1.05Z","diamond","M-0.85,-0.85L0.85,0.85M-0.85,0.85L0.85,-0.85M0,-1.05V1.05","circle","M0,-1L1.1,0.9H-1.1Z","M-1.05,-1.05H1.05V1.05H-1.05Z","M0,-1L1.1,0.9H-1.1Z","diamond"]}}
   }},
  {"mark": {"type": "point", "size": 1, "opacity": 0},
   "encoding": {
     "stroke": {"field": "s", "type": "nominal",
       "scale": {"domain": ["124","125","126","127","128","129","136A","137A","138A","130","131","123","136B","137B","138B"],
                 "range": ["#2E3192","#C45AB3","#FF1F1F","#7E2D8C","#8B1A1A","#00877F","#3F5DB8","#333317","#1E3A1E","#C9A0D6","#B49CCC","#1A1A1A","#1E5C86","#D9446F","#F2A2C4"]},
       "legend": {"title": null, "orient": "none", "legendX": 45, "legendY": 658, "direction": "horizontal", "columns": 8, "gridAlign": "all", "columnPadding": 40, "rowPadding": 13, "symbolSize": 256, "symbolStrokeWidth": 2, "symbolOpacity": 1, "labelFont": "Liberation Sans", "labelFontSize": 17, "labelColor": "#000000", "labelOffset": 22, "labelLimit": 200}},
     "fill": {"field": "s", "type": "nominal",
       "scale": {"domain": ["124","125","126","127","128","129","136A","137A","138A","130","131","123","136B","137B","138B"],
                 "range": ["#ffffff","#ffffff","#ffffff","#ffffff","#ffffff","#ffffff","#ffffff","#333317","#ffffff","#ffffff","#B49CCC","#ffffff","#ffffff","#ffffff","#ffffff"]}},
     "shape": {"field": "s", "type": "nominal",
       "scale": {"domain": ["124","125","126","127","128","129","136A","137A","138A","130","131","123","136B","137B","138B"],
                 "range": ["M-3.1,0H-0.5M0.5,0H3.1M-0.5,-0.5H0.5V0.5H-0.5Z","M-3.1,0H-0.5M0.5,0H3.1M-0.5,-0.5H0.5V0.5H-0.5Z","M-3.1,0H3.1M0,-0.55V0.55","M-3.1,0H3.1M-0.45,-0.45L0.45,0.45M-0.45,0.45L0.45,-0.45M0,-0.55V0.55","M-3.1,0H-0.5M0.5,0H3.1M-0.5,0A0.5,0.5,0,1,1,0.5,0A0.5,0.5,0,1,1,-0.5,0Z","M-3.1,0H-0.3M0.3,0H3.1M0,-0.55L0.55,0.45H-0.55Z","M-3.1,0H-0.5M0.5,0H3.1M-0.5,0A0.5,0.5,0,1,1,0.5,0A0.5,0.5,0,1,1,-0.5,0Z","M-3.1,0H3.1M-0.6,-0.2H0.6V0.2H-0.6Z","M-3.1,0H-0.55M0.55,0H3.1M-0.55,0L0,-0.55L0.55,0L0,0.55Z","M-3.1,0H3.1M-0.45,-0.45L0.45,0.45M-0.45,0.45L0.45,-0.45M0,-0.55V0.55","M-3.1,0H-0.65M0.65,0H3.1M-0.65,0A0.65,0.65,0,1,1,0.65,0A0.65,0.65,0,1,1,-0.65,0M-0.4,0A0.4,0.4,0,1,1,0.4,0A0.4,0.4,0,1,1,-0.4,0M-0.15,0A0.15,0.15,0,1,1,0.15,0A0.15,0.15,0,1,1,-0.15,0","M-3.1,0H-0.3M0.3,0H3.1M0,-0.55L0.55,0.45H-0.55Z","M-3.1,0H-0.5M0.5,0H3.1M-0.5,-0.5H0.5V0.5H-0.5Z","M-3.1,0H-0.3M0.3,0H3.1M0,-0.55L0.55,0.45H-0.55Z","M-3.1,0H-0.55M0.55,0H3.1M-0.55,0L0,-0.55L0.55,0L0,0.55Z"]}}
   }}
]
}
